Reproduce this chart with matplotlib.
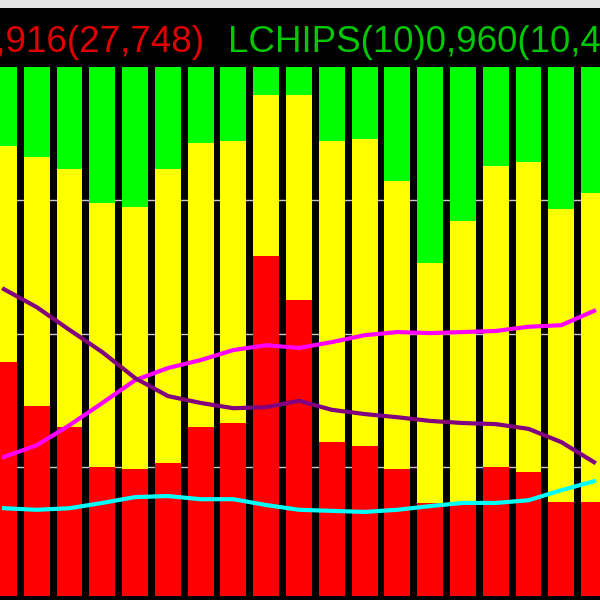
import matplotlib
matplotlib.use("Agg")
import matplotlib.pyplot as plt
import numpy as np
from matplotlib.patches import Rectangle

# Stacked percentages per bar (bottom -> top)
red_vals = [44.3, 35.9, 31.9, 24.3, 24.0, 25.2, 32.0, 32.8, 64.3, 55.9,
            29.2, 28.4, 24.0, 17.6, 17.6, 24.4, 23.5, 17.8, 17.8]
yellow_vals = [40.8, 47.0, 48.8, 50.0, 49.6, 55.5, 53.6, 53.2, 30.5, 38.9,
               56.8, 58.0, 54.4, 45.4, 53.3, 56.8, 58.5, 55.4, 58.4]
green_vals = [14.9, 17.1, 19.3, 25.7, 26.4, 19.3, 14.4, 14.0, 5.2, 5.2,
              14.0, 13.6, 21.6, 37.0, 29.1, 18.8, 18.0, 26.8, 23.8]

purple_line = [58.0, 54.6, 50.3, 46.1, 41.2, 37.8, 36.5, 35.5, 35.7, 36.9,
               35.2, 34.4, 33.8, 33.1, 32.7, 32.5, 31.6, 29.1, 25.3]
magenta_line = [26.3, 28.5, 32.3, 36.5, 40.8, 43.1, 44.6, 46.5, 47.4, 46.9,
                48.0, 49.3, 49.9, 49.7, 49.9, 50.1, 50.9, 51.2, 53.9]
cyan_line = [16.6, 16.3, 16.6, 17.6, 18.7, 18.9, 18.3, 18.3, 17.2, 16.3,
             16.1, 15.9, 16.3, 17.0, 17.6, 17.6, 18.1, 20.0, 21.7]

title_red = "1,916(27,748)"
title_green = "LCHIPS(10)0,960(10,452)"

x = np.arange(len(red_vals))
red = np.array(red_vals)
yellow = np.array(yellow_vals)
green = np.array(green_vals)

fig = plt.figure(figsize=(6, 6), dpi=100, facecolor="black")
ax = fig.add_axes([0, 0, 1, 533 / 600])
ax.set_facecolor("black")

# grid lines behind bars
for f in (0.25, 0.5, 0.75):
    ax.plot([0, 1], [f, f], transform=ax.transAxes, color="#c8c8c8",
            lw=1.0, zorder=0)

w = 0.79
ax.bar(x, red, width=w, color="#ff0000", zorder=2, linewidth=0)
ax.bar(x, yellow, width=w, bottom=red, color="#ffff00", zorder=2, linewidth=0)
ax.bar(x, green, width=w, bottom=red + yellow, color="#00ff00", zorder=2,
       linewidth=0)

ax.plot(x, magenta_line, color="#ff00ff", lw=3.0, zorder=3)
ax.plot(x, purple_line, color="#800080", lw=3.0, zorder=4)
ax.plot(x, cyan_line, color="#00ffff", lw=3.0, zorder=5)

ax.set_xlim(-4 / 33, 596 / 33 + 4 / 33)
ax.set_ylim(-0.75, 100)
ax.axis("off")

# header
fig.patches.append(Rectangle((0, 592 / 600), 1, 8 / 600, transform=fig.transFigure,
                             facecolor="#e4e4e4", edgecolor="none"))
fig.text(204 / 600, 1 - 52 / 600, title_red, color="#e00000",
         fontsize=26.5, family="Liberation Sans", ha="right", va="baseline")
fig.text(228 / 600, 1 - 52 / 600, title_green, color="#00c800",
         fontsize=26.5, family="Liberation Sans", ha="left", va="baseline")

fig.savefig("out.png", dpi=100, facecolor="black")
